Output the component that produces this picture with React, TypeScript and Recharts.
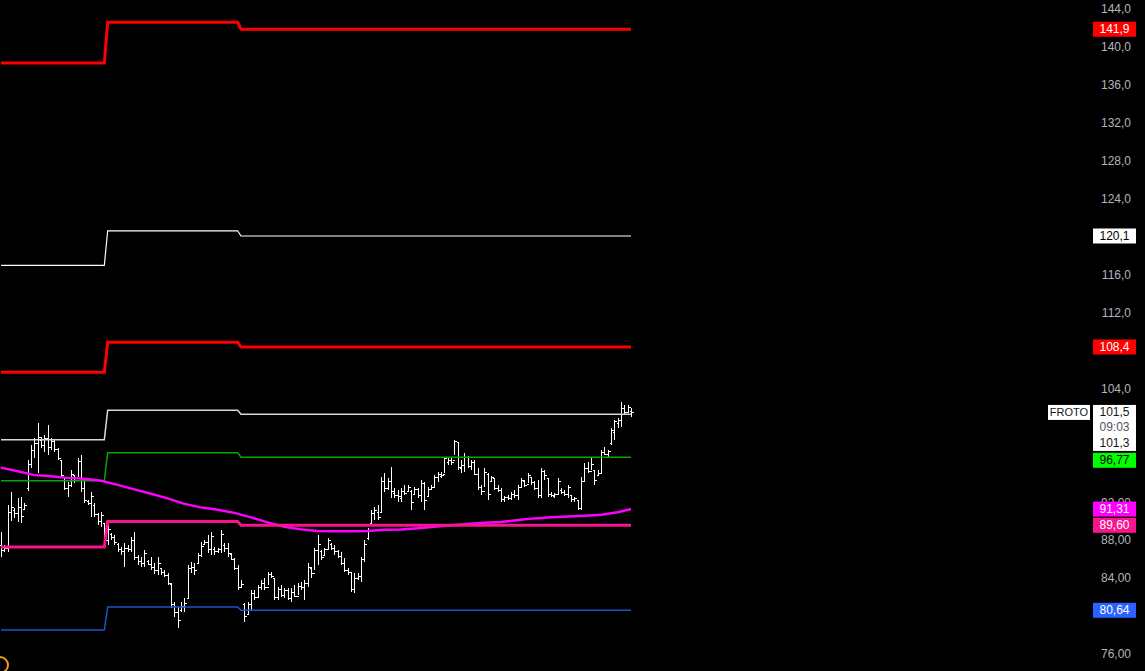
import React from 'react';
import { ComposedChart, Bar, Line, XAxis, YAxis } from 'recharts';

// ---- OHLC bars (hourly) ----
const opens = [87.5,86.9,87.2,91.0,91.2,90.8,91.5,91.3,93.5,96.0,97.5,98.2,98.5,98.0,98.8,97.8,98.4,97.6,96.4,94.6,93.5,93.8,94.8,94.5,96.3,93.5,92.1,91.9,91.7,90.7,90.0,89.8,88.0,88.6,88.3,87.6,87.0,86.8,87.2,87.0,88.0,86.2,85.8,85.6,85.8,85.5,85.2,84.8,85.0,84.6,84.3,83.4,81.2,80.4,80.6,81.0,81.9,85.0,85.2,85.6,86.4,87.6,87.8,87.0,87.0,86.8,87.0,87.5,87.2,86.5,86.0,85.0,83.0,81.2,80.2,81.2,82.4,82.0,83.0,83.5,83.0,84.4,84.0,82.0,82.8,82.2,82.7,81.9,82.5,82.1,83.2,83.0,83.5,85.0,84.5,86.9,86.8,86.4,87.0,87.6,87.2,86.8,86.3,85.6,84.8,84.6,82.8,84.0,84.2,86.0,88.2,89.8,90.8,91.0,90.9,94.2,93.5,94.2,93.0,92.7,92.4,93.2,93.2,93.2,92.9,93.4,92.7,94.0,92.6,93.4,93.6,94.6,94.7,95.0,96.2,96.4,96.4,98.3,95.6,95.9,96.8,95.8,96.2,95.0,93.6,93.2,95.0,94.2,94.5,93.5,93.3,92.3,92.5,92.4,92.9,92.7,93.6,94.2,93.9,94.6,94.1,93.5,92.7,95.3,94.5,92.8,92.6,92.8,93.3,93.1,92.9,92.7,92.3,92.2,91.4,94.2,95.6,95.3,95.4,94.8,95.1,97.3,97.1,98.2,99.4,100.3,100.6,101.9,101.5,101.6];
const highs = [88.86,87.49,91.70,93.07,91.39,92.44,92.55,91.91,96.45,98.03,98.77,100.35,98.87,99.08,100.14,98.77,98.55,97.71,96.45,94.65,94.13,95.39,94.87,96.66,96.97,94.34,92.23,93.07,91.91,90.86,90.97,89.81,89.60,88.75,88.54,87.70,87.28,87.70,87.49,88.33,88.86,86.43,86.22,86.96,85.91,86.22,85.59,86.22,85.06,84.85,84.53,83.48,81.48,80.95,81.48,81.90,85.38,85.70,85.59,86.64,87.80,88.02,88.54,88.86,87.28,87.17,89.07,87.70,87.70,86.64,86.12,85.38,83.80,81.37,81.48,82.74,82.74,83.27,83.80,84.01,84.64,84.64,84.01,83.06,83.27,82.95,82.95,82.95,83.27,83.48,83.59,83.80,85.59,85.17,87.17,88.54,86.96,87.17,88.22,87.70,87.49,86.96,86.75,86.12,85.06,84.64,84.53,84.53,86.22,88.02,89.28,91.18,91.49,91.70,94.65,95.08,94.55,95.71,93.49,93.28,93.49,93.81,93.81,93.28,93.60,93.49,94.34,94.13,93.60,93.81,94.87,95.18,95.18,96.76,96.66,96.66,98.55,98.34,96.45,97.18,96.87,96.45,96.45,95.60,93.81,95.60,95.08,94.76,94.55,93.81,93.49,92.65,92.76,93.07,93.28,93.81,94.55,94.34,95.08,94.65,94.23,94.34,95.60,95.39,94.55,93.07,92.97,94.55,93.49,93.28,93.81,92.76,92.55,92.23,94.65,96.13,96.24,96.76,95.39,95.39,97.50,97.82,97.50,99.82,100.66,100.87,102.56,102.24,102.24,101.93];
const lows = [86.22,86.75,86.75,90.02,90.33,89.91,89.81,91.18,93.18,95.60,96.66,95.08,97.71,97.29,96.97,97.50,97.29,96.45,94.65,93.28,92.55,93.60,94.02,94.65,93.07,91.91,91.70,90.44,90.44,89.60,89.39,87.80,87.49,88.02,87.49,86.75,86.43,85.17,86.75,86.75,85.91,85.38,85.17,85.17,85.38,84.85,84.43,84.33,84.33,84.11,83.27,80.85,79.90,78.74,80.42,80.42,81.90,84.53,84.33,85.59,86.22,87.49,86.64,86.43,86.43,86.64,86.64,86.75,86.22,85.91,84.85,82.74,82.95,79.37,80.11,80.63,81.69,82.01,82.74,82.74,83.27,84.01,81.69,81.69,82.01,81.90,81.69,81.48,82.01,82.22,82.74,81.69,83.06,84.01,84.85,85.38,85.91,86.43,86.96,86.96,86.43,86.12,85.38,84.64,84.33,82.53,82.43,83.80,83.59,85.70,88.02,89.81,90.12,90.12,90.86,93.07,93.28,92.44,92.44,92.02,92.02,92.76,93.07,91.18,92.76,92.44,92.02,91.18,92.55,93.28,93.60,94.13,94.55,95.08,95.92,95.92,96.97,95.39,95.08,95.18,95.60,95.39,94.87,93.28,92.76,93.60,92.23,94.13,93.28,93.07,92.02,92.02,92.23,92.23,92.44,92.23,93.49,93.60,94.02,93.81,93.28,92.44,92.44,94.34,92.55,92.55,92.44,92.76,92.86,92.65,92.44,92.02,92.02,91.18,91.18,94.13,95.08,95.39,93.81,94.76,95.08,96.97,96.76,98.03,98.55,99.82,99.92,101.19,101.40,100.98];
const closes = [86.9,87.2,91.0,91.5,90.8,91.5,90.5,91.7,96.0,97.5,98.2,98.9,98.0,98.8,97.8,98.4,97.6,96.6,94.8,93.5,93.8,95.0,94.3,96.3,93.5,92.2,91.9,92.6,90.7,90.0,90.6,88.0,89.2,88.3,87.8,87.0,86.8,87.2,87.0,88.0,86.2,85.8,85.6,86.6,85.5,85.2,84.8,85.6,84.6,84.3,83.5,81.2,80.4,79.6,81.0,81.4,85.0,85.2,84.8,86.4,87.4,87.8,87.0,88.4,86.8,87.0,88.6,87.2,86.6,86.0,85.0,83.0,83.4,80.0,81.2,82.4,82.0,83.0,83.5,83.0,84.4,84.2,82.0,82.8,82.2,82.7,81.9,82.5,82.1,83.2,83.0,83.5,85.2,84.5,86.9,87.6,86.2,87.0,88.0,87.2,86.8,86.3,85.6,84.8,84.6,82.8,84.0,84.2,86.0,87.6,89.0,90.8,91.2,90.4,94.2,93.5,94.2,93.2,92.7,92.6,93.2,93.0,93.6,92.0,93.4,92.7,94.0,92.2,93.4,93.6,94.6,95.0,94.9,96.6,96.4,96.2,98.4,95.7,95.9,96.8,95.8,96.2,95.0,93.6,93.2,95.2,92.8,94.6,93.5,93.3,92.3,92.5,92.4,92.9,92.7,93.6,94.3,93.8,94.8,94.1,93.5,92.7,95.3,94.8,92.8,92.7,92.8,94.2,93.1,92.9,93.6,92.3,92.4,91.4,94.2,95.6,95.3,96.0,94.3,95.1,97.3,97.1,97.4,99.6,100.5,100.6,101.9,101.5,102.0,101.5];

// ---- weekly pivot levels: one value per period; periods start at these bar indices ----
const periodStarts = [0, 32, 72];
const r2Levels = [138.34, 142.63, 141.9];
const r1WhiteLevels = [117.01, 120.65, 120.1];
const r1Levels = [105.73, 108.89, 108.4];
const pivotLevels = [98.63, 101.72, 101.3];
const greenLevels = [94.31, 97.26, 96.77];
const pinkLevels = [87.31, 89.99, 89.6];
const blueLevels = [78.56, 80.98, 80.64];

// ---- moving average readings at sampled bars ----
const maBars = [0,5,10,15,20,25,30,35,40,45,50,55,60,65,70,75,80,85,90,95,100,105,110,115,120,125,130,135,140,145,150,155,160,165,170,175,180,185,189];
const maValues = [95.68,95.29,94.89,94.76,94.60,94.50,94.29,93.86,93.39,92.92,92.44,91.86,91.49,91.23,90.91,90.44,89.91,89.44,89.17,89.01,88.96,88.96,89.01,89.12,89.17,89.28,89.44,89.60,89.75,89.86,89.94,90.17,90.33,90.44,90.54,90.60,90.72,90.97,91.31];

// ---- axis ticks (those hidden behind price tags are left out) and price tags ----
const yTicks = [76, 84, 88, 92, 104, 112, 116, 124, 128, 132, 136, 140, 144];
const tagValues = [141.9, 120.1, 108.4, 101.5, 96.77, 91.31, 89.6, 80.64];
const tagTexts = ['141,9', '120,1', '108,4', '101,5', '96,77', '91,31', '89,60', '80,64'];

const Y_DOMAIN: [number, number] = [74.24, 144.98];
const X_DOMAIN: [number, number] = [-0.3, 326.7];

const tagStyle: Record<string, { bg: string; fg: string; dy: number }> = {
  '141,9': { bg: '#ff0000', fg: '#ffffff', dy: 0 },
  '120,1': { bg: '#ffffff', fg: '#000000', dy: 0 },
  '108,4': { bg: '#ff0000', fg: '#ffffff', dy: 0 },
  '101,5': { bg: '#ffffff', fg: '#000000', dy: 0 },
  '96,77': { bg: '#00ff00', fg: '#000000', dy: 3 },
  '91,31': { bg: '#ff00ff', fg: '#ffffff', dy: 0 },
  '89,60': { bg: '#f7148c', fg: '#ffffff', dy: 0 },
  '80,64': { bg: '#2962ff', fg: '#ffffff', dy: 0 },
};

const FONT = '"Liberation Sans", Arial, sans-serif';

function levelAt(levels: number[], i: number) {
  let k = 0;
  for (let p = 0; p < periodStarts.length; p++) if (i >= periodStarts[p]) k = p;
  return levels[k];
}

const data = opens.map((o, i) => {
  const mk = maBars.indexOf(i);
  return {
    i,
    o,
    h: highs[i],
    l: lows[i],
    c: closes[i],
    range: [lows[i], highs[i]],
    r2: levelAt(r2Levels, i),
    r1w: levelAt(r1WhiteLevels, i),
    r1: levelAt(r1Levels, i),
    pp: levelAt(pivotLevels, i),
    g: levelAt(greenLevels, i),
    pk: levelAt(pinkLevels, i),
    b: levelAt(blueLevels, i),
    ma: mk >= 0 ? maValues[mk] : null,
  };
});

const OhlcShape = (props: any) => {
  const { x, y, width, height, payload } = props;
  if (x == null || y == null) return null;
  const top = Math.min(y, y + height);
  const bot = Math.max(y, y + height);
  const cx = Math.round(x + width / 2) + 0.5;
  const span = payload.h - payload.l || 1;
  const yo = top + ((payload.h - payload.o) / span) * (bot - top);
  const yc = top + ((payload.h - payload.c) / span) * (bot - top);
  return (
    <g stroke="#ffffff" strokeWidth={1} shapeRendering="crispEdges">
      <line x1={cx} x2={cx} y1={top} y2={bot} />
      <line x1={cx - 2} x2={cx} y1={yo} y2={yo} />
      <line x1={cx} x2={cx + 2} y1={yc} y2={yc} />
    </g>
  );
};

const fmt = (v: number) => (v >= 100 ? v.toFixed(1) : v.toFixed(2)).replace('.', ',');

const AxisTick = (props: any) => {
  const { y, payload } = props;
  return (
    <text x={1131} y={y + 4} textAnchor="end" fill="#b2b5be" fontSize={12} fontFamily={FONT}>
      {fmt(payload.value)}
    </text>
  );
};

const TAG_X = 1093;
const TAG_W = 43;
const TAG_H = 15;

const TagTick = (props: any) => {
  const { y, payload } = props;
  const k = tagValues.indexOf(payload.value);
  if (k < 0) return null;
  const label = tagTexts[k];
  const st = tagStyle[label];
  const cy = y + st.dy;
  if (label === '101,5') {
    return (
      <g fontFamily={FONT} fontSize={12}>
        <rect x={1048} y={cy - 7.5} width={42} height={TAG_H} fill="#ffffff" />
        <text x={1069} y={cy + 4} textAnchor="middle" fill="#131722" fontSize={11}>FROTO</text>
        <rect x={TAG_X} y={cy - 7.5} width={TAG_W} height={46} fill="#ffffff" />
        <text x={TAG_X + TAG_W / 2} y={cy + 4} textAnchor="middle" fill="#131722">101,5</text>
        <text x={TAG_X + TAG_W / 2} y={cy + 19} textAnchor="middle" fill="#50535e">09:03</text>
        <text x={TAG_X + TAG_W / 2} y={cy + 35} textAnchor="middle" fill="#131722">101,3</text>
      </g>
    );
  }
  return (
    <g fontFamily={FONT} fontSize={12}>
      <rect x={TAG_X} y={cy - 7.5} width={TAG_W} height={TAG_H} fill={st.bg} />
      <text x={TAG_X + TAG_W / 2} y={cy + 4} textAnchor="middle" fill={st.fg}>{label}</text>
    </g>
  );
};

const lineProps = { dot: false, activeDot: false, isAnimationActive: false, yAxisId: 'p' } as const;

export default function App() {
  return (
    <div style={{ position: 'fixed', left: 0, top: 0, width: 1145, height: 671, background: '#000000', overflow: 'hidden' }}>
      <ComposedChart width={1145} height={671} data={data} margin={{ top: 0, right: 0, bottom: 0, left: 0 }}>
        <XAxis dataKey="i" type="number" domain={X_DOMAIN} allowDataOverflow hide />
        <YAxis
          yAxisId="p"
          orientation="right"
          type="number"
          domain={Y_DOMAIN}
          allowDataOverflow
          ticks={yTicks}
          interval={0}
          width={55}
          axisLine={false}
          tickLine={false}
          tick={<AxisTick />}
        />
        <Line {...lineProps} dataKey="r2" stroke="#ff0000" strokeWidth={3} />
        <Line {...lineProps} dataKey="r1w" stroke="#ffffff" strokeWidth={1.2} />
        <Line {...lineProps} dataKey="r1" stroke="#ff0000" strokeWidth={3} />
        <Line {...lineProps} dataKey="pp" stroke="#d8d8d8" strokeWidth={1.5} />
        <Line {...lineProps} dataKey="g" stroke="#00a800" strokeWidth={1.5} />
        <Line {...lineProps} dataKey="b" stroke="#1f4fd0" strokeWidth={1.5} />
        <Line {...lineProps} dataKey="ma" stroke="#ff00ff" strokeWidth={2.5} connectNulls />
        <Line {...lineProps} dataKey="pk" stroke="#f7148c" strokeWidth={3} />
        <Bar yAxisId="p" dataKey="range" barSize={3} shape={<OhlcShape />} isAnimationActive={false} />
        <YAxis
          yAxisId="tag"
          orientation="right"
          mirror
          type="number"
          domain={Y_DOMAIN}
          allowDataOverflow
          ticks={tagValues}
          interval={0}
          axisLine={false}
          tickLine={false}
          tick={<TagTick />}
        />
      </ComposedChart>
      <div
        style={{
          position: 'absolute',
          left: -9,
          top: 656,
          width: 14,
          height: 14,
          borderRadius: '50%',
          border: '2px solid #f39c12',
        }}
      />
    </div>
  );
}
